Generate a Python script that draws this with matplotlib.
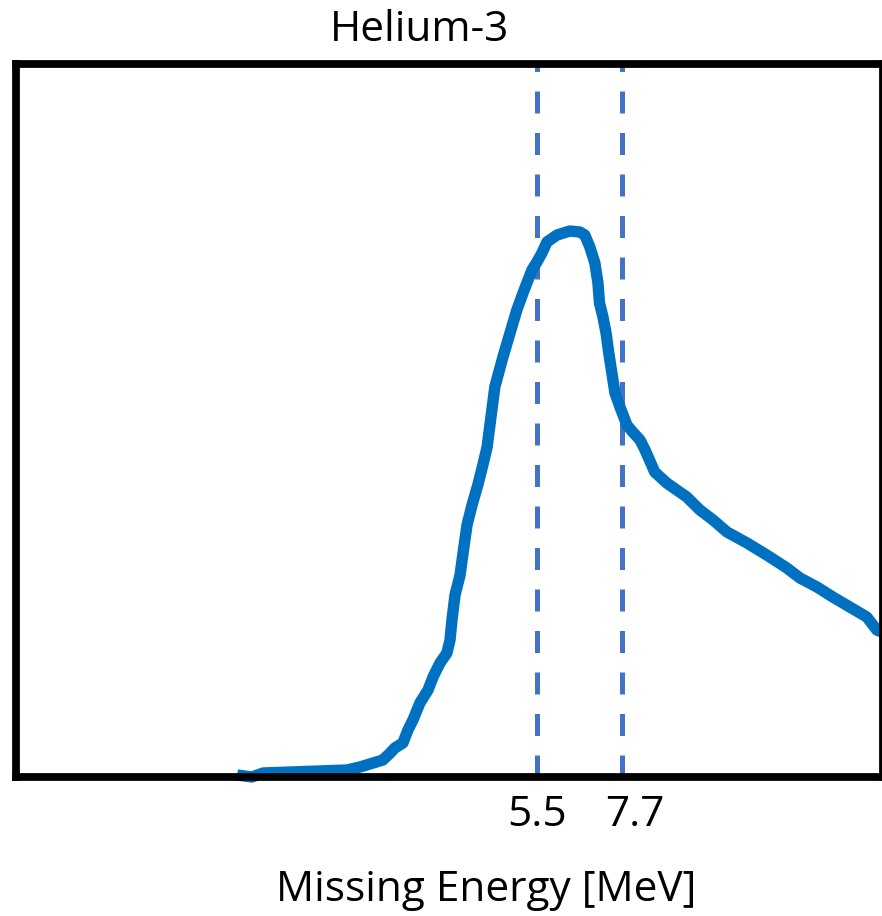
import matplotlib
matplotlib.use("Agg")
import matplotlib.pyplot as plt
import matplotlib.transforms as mtransforms

# Missing-energy spectrum for Helium-3 (arbitrary yield units)
energy_mev = [-2.26, -1.88, -1.59, 0.58, 0.92, 1.51, 1.70, 1.82, 2.03, 2.16,
              2.29, 2.47, 2.68, 2.81, 2.99, 3.17, 3.25, 3.30, 3.38, 3.51,
              3.58, 3.69, 3.82, 3.97, 4.10, 4.21, 4.41, 4.62, 4.88, 4.98,
              5.14, 5.37, 5.50, 5.63, 5.76, 6.02, 6.35, 6.61, 6.74, 6.87,
              7.00, 7.08, 7.12, 7.21, 7.29, 7.36, 7.44, 7.52, 7.65, 7.83,
              7.98, 8.17, 8.30, 8.55, 8.86, 9.38, 9.72, 10.06, 10.42, 10.94,
              11.45, 11.97, 12.31, 12.75, 13.16, 13.60, 14.04, 14.30, 14.43]
yield_au = [0, -2, 2, 5, 8, 15, 22, 27, 32, 45,
            55, 72, 85, 98, 112, 122, 135, 155, 180, 200,
            220, 250, 270, 290, 310, 328, 388, 418, 452, 465,
            482, 505, 513, 522, 533, 540, 544, 543, 540, 528,
            512, 492, 472, 458, 442, 422, 402, 382, 368, 350,
            343, 335, 325, 303, 292, 278, 265, 255, 243, 232,
            220, 207, 197, 188, 178, 168, 158, 145, 143]

# Separation/threshold energies marked on the axis
marker_energies = [5.5, 7.7]
marker_labels = ["5.5", "7.7"]

title_text = "Helium-3"
xlabel_text = "Missing Energy [MeV]"

W, H = 882, 916
fig = plt.figure(figsize=(W / 100, H / 100), dpi=100)
ax = fig.add_axes([15.5 / W, (H - 777) / H, (883 - 15.5) / W, (777 - 63.5) / H])

font = ["Open Sans", "DejaVu Sans"]
fsize = 30.5

for e in marker_energies:
    ax.axvline(e, ymin=0.0, ymax=1.0, color="#4472C4", lw=3.6,
               dashes=(4.4, 3.9), dash_capstyle="butt", zorder=2)

ax.plot(energy_mev, yield_au, color="#0070C0", lw=8.2,
        solid_capstyle="butt", solid_joinstyle="round", zorder=3, clip_on=False)

ax.set_xlim(-8.0, 14.46)
ax.set_ylim(-2, 711.5)
ax.set_yticks([])
ax.set_xticks(marker_energies)
ax.set_xticklabels(marker_labels, fontfamily=font, fontsize=fsize)
ax.tick_params(axis="x", length=0, pad=12)

# nudge the second label slightly to the right
labels = ax.get_xticklabels()
shift = mtransforms.ScaledTranslation(13 / 100, 0, fig.dpi_scale_trans)
labels[1].set_transform(labels[1].get_transform() + shift)

for s in ax.spines.values():
    s.set_linewidth(5.6)
    s.set_color("black")
    s.set_zorder(4)

fig.text(420 / W, 1 - 30 / H, title_text, ha="center", va="center",
         fontfamily=font, fontsize=fsize)
fig.text(486 / W, 1 - 890 / H, xlabel_text, ha="center", va="center",
         fontfamily=font, fontsize=fsize)

fig.savefig("out.png", dpi=100)
